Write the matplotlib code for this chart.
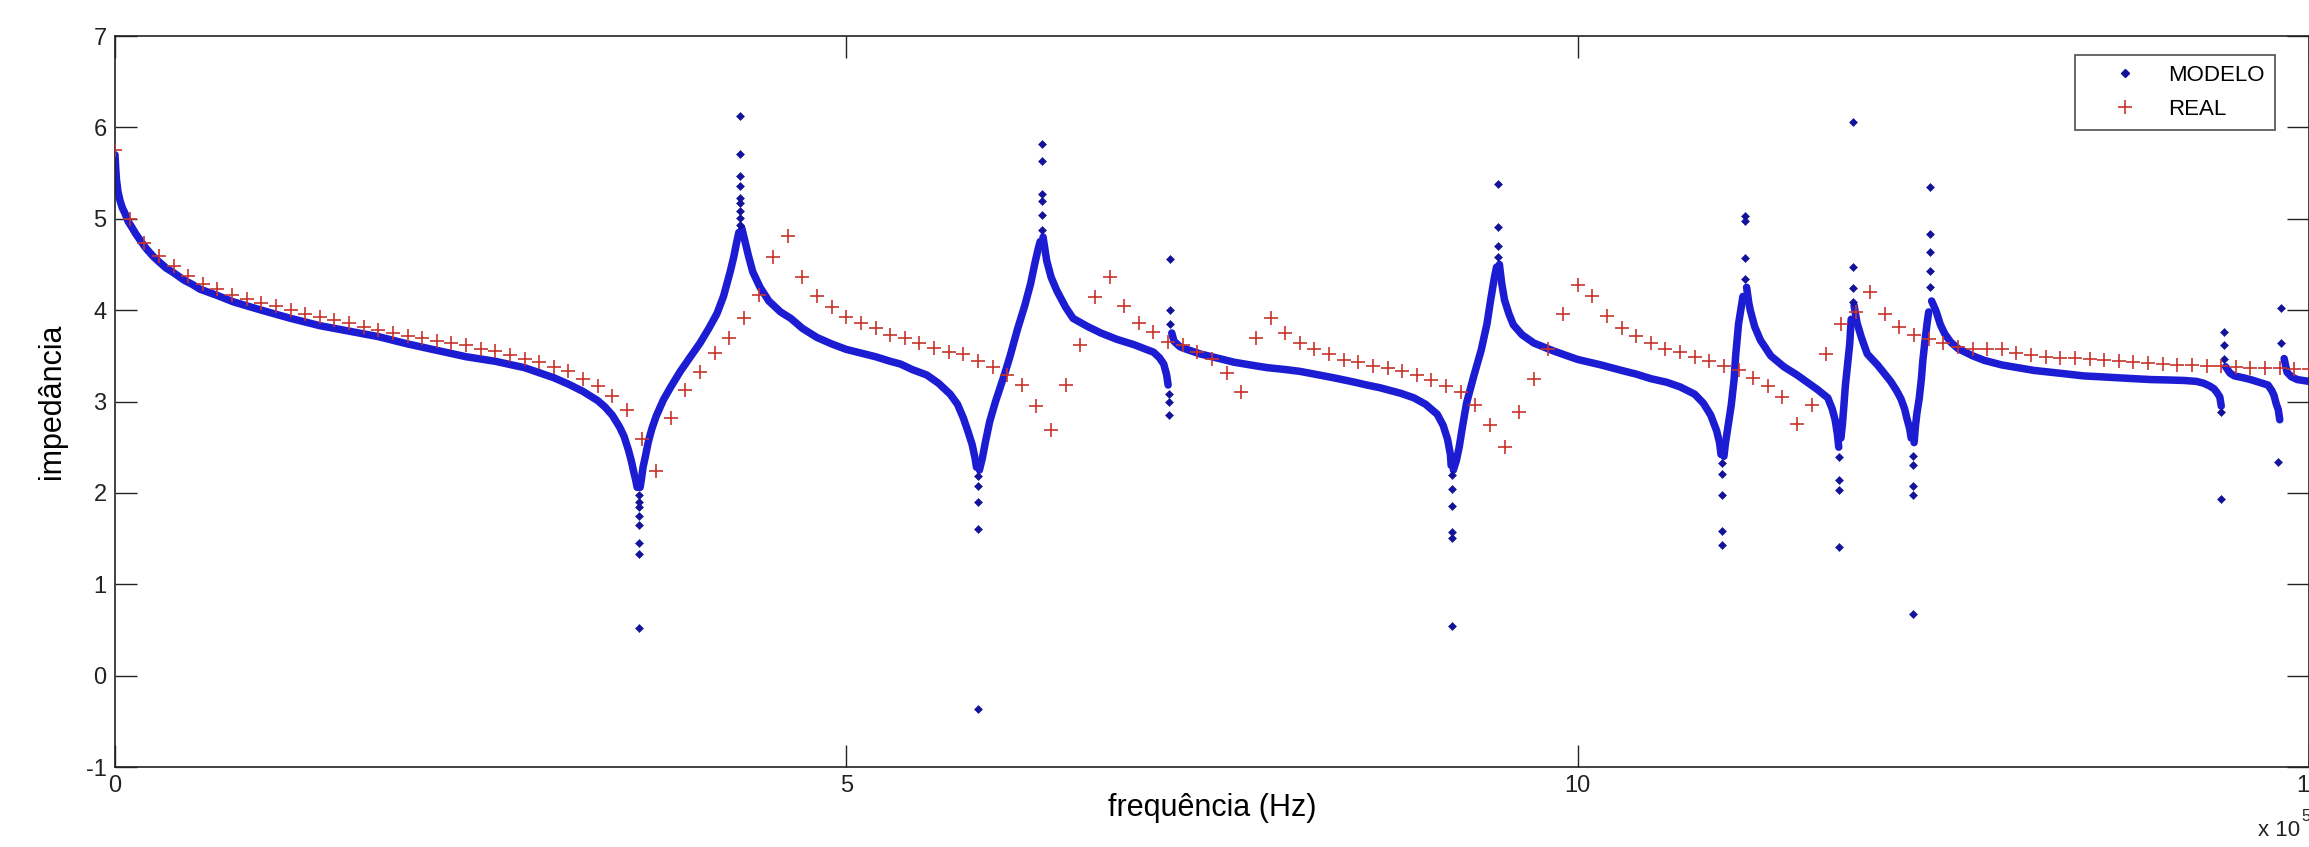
import numpy as np
import matplotlib.pyplot as plt
from matplotlib.lines import Line2D

plt.rcParams['font.family'] = ['Liberation Sans', 'DejaVu Sans']
plt.rcParams['axes.unicode_minus'] = False

# frequência em unidades de 1e5 Hz
# REAL: medições a cada 0.1 (x 10^5 Hz), de 0 a 15
real_z = [
    5.75, 5.00, 4.73, 4.59, 4.48, 4.37, 4.29, 4.23, 4.17, 4.12,
    4.08, 4.04, 4.00, 3.96, 3.92, 3.89, 3.86, 3.82, 3.78, 3.75,
    3.72, 3.69, 3.66, 3.64, 3.62, 3.57, 3.55, 3.51, 3.47, 3.43,
    3.38, 3.33, 3.25, 3.17, 3.06, 2.91, 2.59, 2.24, 2.82, 3.13,
    3.32, 3.53, 3.70, 3.91, 4.17, 4.58, 4.81, 4.36, 4.15, 4.03,
    3.92, 3.86, 3.80, 3.73, 3.70, 3.64, 3.59, 3.54, 3.52, 3.44,
    3.38, 3.29, 3.18, 2.95, 2.69, 3.18, 3.62, 4.14, 4.36, 4.04,
    3.86, 3.76, 3.65, 3.62, 3.54, 3.47, 3.31, 3.10, 3.70, 3.91,
    3.75, 3.64, 3.58, 3.52, 3.45, 3.43, 3.39, 3.37, 3.33, 3.29,
    3.23, 3.17, 3.10, 2.96, 2.74, 2.50, 2.88, 3.25, 3.58, 3.96,
    4.27, 4.16, 3.94, 3.80, 3.72, 3.64, 3.57, 3.54, 3.49, 3.44,
    3.39, 3.34, 3.26, 3.17, 3.05, 2.75, 2.96, 3.52, 3.85, 3.98,
    4.20, 3.96, 3.81, 3.73, 3.68, 3.64, 3.60, 3.58, 3.58, 3.57,
    3.53, 3.51, 3.49, 3.48, 3.48, 3.46, 3.45, 3.44, 3.43, 3.42,
    3.41, 3.40, 3.40, 3.39, 3.39, 3.38, 3.37, 3.37, 3.37, 3.36,
    3.36,
]
real_f = np.arange(len(real_z)) * 0.1

# MODELO: ramos continuos entre ressonancias (f, z)
ramo_a = [(0.0, 5.70), (0.005, 5.55), (0.01, 5.43), (0.02, 5.30), (0.034, 5.20),
          (0.05, 5.12), (0.068, 5.06), (0.09, 4.97), (0.114, 4.91), (0.14, 4.84),
          (0.17, 4.77), (0.21, 4.68), (0.26, 4.59), (0.3, 4.53), (0.35, 4.46),
          (0.4, 4.41), (0.47, 4.33), (0.53, 4.28), (0.58, 4.23), (0.7, 4.16),
          (0.81, 4.09), (1.0, 4.00), (1.2, 3.91), (1.4, 3.83), (1.6, 3.77),
          (1.8, 3.71), (2.0, 3.63), (2.2, 3.56), (2.4, 3.49), (2.6, 3.44),
          (2.8, 3.37), (3.0, 3.26), (3.1, 3.19), (3.2, 3.11), (3.3, 3.01),
          (3.35, 2.94), (3.4, 2.85), (3.45, 2.72), (3.48, 2.62), (3.51, 2.47),
          (3.53, 2.35), (3.545, 2.24), (3.56, 2.14), (3.57, 2.06)]
ramo_b = [(3.59, 2.06), (3.60, 2.16), (3.61, 2.28), (3.625, 2.39), (3.645, 2.55),
          (3.67, 2.70), (3.70, 2.84), (3.75, 3.02), (3.80, 3.16), (3.865, 3.33),
          (3.93, 3.48), (4.0, 3.64), (4.06, 3.80), (4.115, 3.96), (4.16, 4.15),
          (4.206, 4.42), (4.23, 4.58), (4.25, 4.74), (4.265, 4.85)]
ramo_c = [(4.285, 4.90), (4.30, 4.80), (4.33, 4.60), (4.36, 4.42), (4.41, 4.25),
          (4.47, 4.10), (4.55, 3.98), (4.62, 3.91), (4.7, 3.80), (4.8, 3.70),
          (4.9, 3.63), (5.0, 3.57), (5.1, 3.53), (5.2, 3.49), (5.3, 3.44),
          (5.37, 3.41), (5.45, 3.35), (5.55, 3.29), (5.63, 3.20), (5.71, 3.08),
          (5.76, 2.97), (5.80, 2.82), (5.83, 2.68), (5.86, 2.53), (5.88, 2.38),
          (5.89, 2.28)]
ramo_d = [(5.91, 2.25), (5.93, 2.38), (5.95, 2.55), (5.98, 2.78), (6.02, 3.00),
          (6.08, 3.29), (6.12, 3.50), (6.17, 3.79), (6.22, 4.05), (6.26, 4.29),
          (6.29, 4.52), (6.31, 4.66), (6.325, 4.75)]
ramo_e = [(6.345, 4.80), (6.37, 4.54), (6.40, 4.36), (6.44, 4.21), (6.50, 4.03),
          (6.55, 3.91), (6.65, 3.82), (6.74, 3.75), (6.85, 3.68), (6.97, 3.62),
          (7.05, 3.57), (7.10, 3.54), (7.14, 3.48), (7.17, 3.41), (7.19, 3.29),
          (7.20, 3.18)]
ramo_f = [(7.225, 3.75), (7.24, 3.66), (7.28, 3.60), (7.31, 3.58), (7.42, 3.52),
          (7.55, 3.47), (7.65, 3.43), (7.8, 3.39), (7.88, 3.37), (8.0, 3.35),
          (8.1, 3.33), (8.2, 3.30), (8.33, 3.26), (8.45, 3.22), (8.56, 3.18),
          (8.65, 3.15), (8.79, 3.09), (8.88, 3.04), (8.96, 2.97), (9.04, 2.86),
          (9.08, 2.74), (9.11, 2.59), (9.13, 2.42), (9.135, 2.30)]
ramo_g = [(9.15, 2.25), (9.17, 2.35), (9.19, 2.50), (9.21, 2.70), (9.24, 2.98),
          (9.29, 3.28), (9.34, 3.56), (9.38, 3.85), (9.405, 4.11), (9.43, 4.35),
          (9.445, 4.47)]
ramo_h = [(9.465, 4.50), (9.48, 4.30), (9.50, 4.11), (9.53, 3.96), (9.56, 3.84),
          (9.62, 3.73), (9.70, 3.64), (9.84, 3.55), (10.0, 3.46), (10.16, 3.40),
          (10.3, 3.34), (10.4, 3.30), (10.5, 3.25), (10.61, 3.21), (10.7, 3.16),
          (10.8, 3.08), (10.86, 2.98), (10.91, 2.85), (10.95, 2.68), (10.97, 2.55),
          (10.98, 2.42)]
ramo_i = [(11.0, 2.40), (11.01, 2.54), (11.03, 2.75), (11.05, 2.96), (11.07, 3.25),
          (11.08, 3.50), (11.10, 3.85), (11.12, 4.05), (11.13, 4.15)]
ramo_j = [(11.155, 4.25), (11.17, 4.08), (11.18, 4.00), (11.21, 3.82), (11.25, 3.67),
          (11.32, 3.50), (11.41, 3.38), (11.5, 3.29), (11.57, 3.21), (11.64, 3.13),
          (11.71, 3.04), (11.74, 2.92), (11.76, 2.80), (11.775, 2.65), (11.785, 2.50)]
ramo_k = [(11.80, 2.60), (11.81, 2.75), (11.82, 2.95), (11.83, 3.17), (11.845, 3.40),
          (11.86, 3.63), (11.87, 3.90)]
ramo_l = [(11.89, 4.05), (11.91, 3.86), (11.94, 3.70), (11.98, 3.52), (12.05, 3.40),
          (12.10, 3.30), (12.14, 3.22), (12.18, 3.12), (12.21, 3.03), (12.235, 2.92),
          (12.25, 2.82), (12.27, 2.70), (12.28, 2.60)]
ramo_m = [(12.30, 2.55), (12.31, 2.74), (12.32, 2.88), (12.335, 3.03), (12.35, 3.25),
          (12.36, 3.45), (12.375, 3.67), (12.39, 3.87), (12.40, 3.98)]
ramo_n = [(12.42, 4.10), (12.45, 3.99), (12.48, 3.84), (12.51, 3.74), (12.55, 3.65),
          (12.60, 3.58), (12.7, 3.50), (12.78, 3.45), (12.9, 3.40), (13.01, 3.37),
          (13.12, 3.34), (13.235, 3.32), (13.35, 3.30), (13.46, 3.28), (13.58, 3.27),
          (13.69, 3.26), (13.8, 3.25), (13.92, 3.24), (14.05, 3.235), (14.15, 3.23),
          (14.23, 3.22), (14.28, 3.20), (14.32, 3.17), (14.35, 3.14), (14.37, 3.10),
          (14.39, 3.05), (14.40, 2.95)]
ramo_o = [(14.43, 3.38), (14.46, 3.31), (14.49, 3.28), (14.55, 3.26), (14.60, 3.24),
          (14.66, 3.21), (14.72, 3.18), (14.745, 3.12), (14.76, 3.07), (14.775, 2.98),
          (14.79, 2.91), (14.80, 2.80)]
ramo_p = [(14.83, 3.47), (14.85, 3.32), (14.88, 3.27), (14.92, 3.24), (14.96, 3.23),
          (15.0, 3.22)]

# MODELO: pontos isolados nas ressonancias (f, lista de z)
picos = [
    (3.58, [0.52, 1.33, 1.45, 1.65, 1.75, 1.85, 1.90, 1.98]),
    (4.275, [4.93, 5.01, 5.09, 5.17, 5.23, 5.36, 5.47, 5.71, 6.12]),
    (5.90, [2.18, 2.07, 1.90, 1.61, -0.36]),
    (6.335, [4.88, 5.04, 5.19, 5.27, 5.63, 5.82]),
    (7.205, [3.08, 2.99, 2.85]),
    (7.215, [4.56, 4.00, 3.85]),
    (9.14, [2.20, 2.04, 1.86, 1.57, 1.51, 0.54]),
    (9.455, [4.58, 4.70, 4.91, 5.38]),
    (10.99, [2.33, 2.21, 1.98, 1.58, 1.43]),
    (11.145, [4.34, 4.57, 4.98, 5.03]),
    (11.79, [2.39, 2.14, 2.03, 1.41]),
    (11.88, [4.09, 4.24, 4.47, 6.06]),
    (12.29, [2.40, 2.30, 2.07, 1.98, 0.67]),
    (12.41, [4.25, 4.43, 4.64, 4.83, 5.35]),
    (14.40, [2.88, 1.93]),
    (14.42, [3.76, 3.62, 3.46]),
    (14.79, [2.34]),
    (14.81, [4.02, 3.64]),
]

ramos = [ramo_a, ramo_b, ramo_c, ramo_d, ramo_e, ramo_f, ramo_g, ramo_h,
         ramo_i, ramo_j, ramo_k, ramo_l, ramo_m, ramo_n, ramo_o, ramo_p]

azul = '#1c1cd2'
azul_esc = '#12129a'
verm = '#c8342c'

W, H = 2309, 847
fig = plt.figure(figsize=(W / 100, H / 100), dpi=100)
ax = fig.add_axes([115 / W, 1 - 767 / H, 2194 / W, 731 / H])

for r in ramos:
    f, z = zip(*r)
    ax.plot(f, z, '-', color=azul, lw=5.4, solid_capstyle='round',
            solid_joinstyle='round', zorder=2)

pf = [p[0] for p in picos for _ in p[1]]
pz = [v for p in picos for v in p[1]]
ax.plot(pf, pz, 'D', color=azul_esc, ms=3.6, mew=0.4, ls='none', zorder=3)

ax.plot(real_f, real_z, '+', color=verm, ms=10, mew=1.2, ls='none', zorder=4)

ax.set_xlim(0, 15)
ax.set_ylim(-1, 7)
ax.set_xticks([0, 5, 10, 15])
ax.set_yticks(range(-1, 8))
ax.tick_params(direction='in', length=15.8, width=1.0, top=True, right=True,
               labelsize=17, pad=6, colors='#222222')
for s in ax.spines.values():
    s.set_linewidth(1.2)
    s.set_color('#222222')

ax.set_xlabel('frequência (Hz)', fontsize=22)
ax.set_ylabel('impedância', fontsize=22)
ax.xaxis.set_label_coords(0.5, -0.035)
ax.yaxis.set_label_coords(-0.022, 0.5)

fig.text(2258 / W, 1 - 830 / H, 'x 10', fontsize=16, color='#222222',
         va='center', ha='left')
fig.text(2301 / W, 1 - 816 / H, '5', fontsize=12, color='#222222',
         va='center', ha='left')

handles = [
    Line2D([], [], marker='D', color=azul_esc, ms=3.6, ls='none', label='MODELO'),
    Line2D([], [], marker='+', color=verm, ms=10, mew=1.2, ls='none', label='REAL'),
]
leg = ax.legend(handles=handles, loc='upper right', bbox_to_anchor=(0.9845, 0.974),
                fontsize=16, frameon=True, fancybox=False, edgecolor='#222222',
                borderpad=0.45, handletextpad=0.15, labelspacing=0.58,
                handlelength=3.6, borderaxespad=0)
leg.get_frame().set_linewidth(1.2)

fig.savefig('out.png', dpi=100, facecolor='white')
